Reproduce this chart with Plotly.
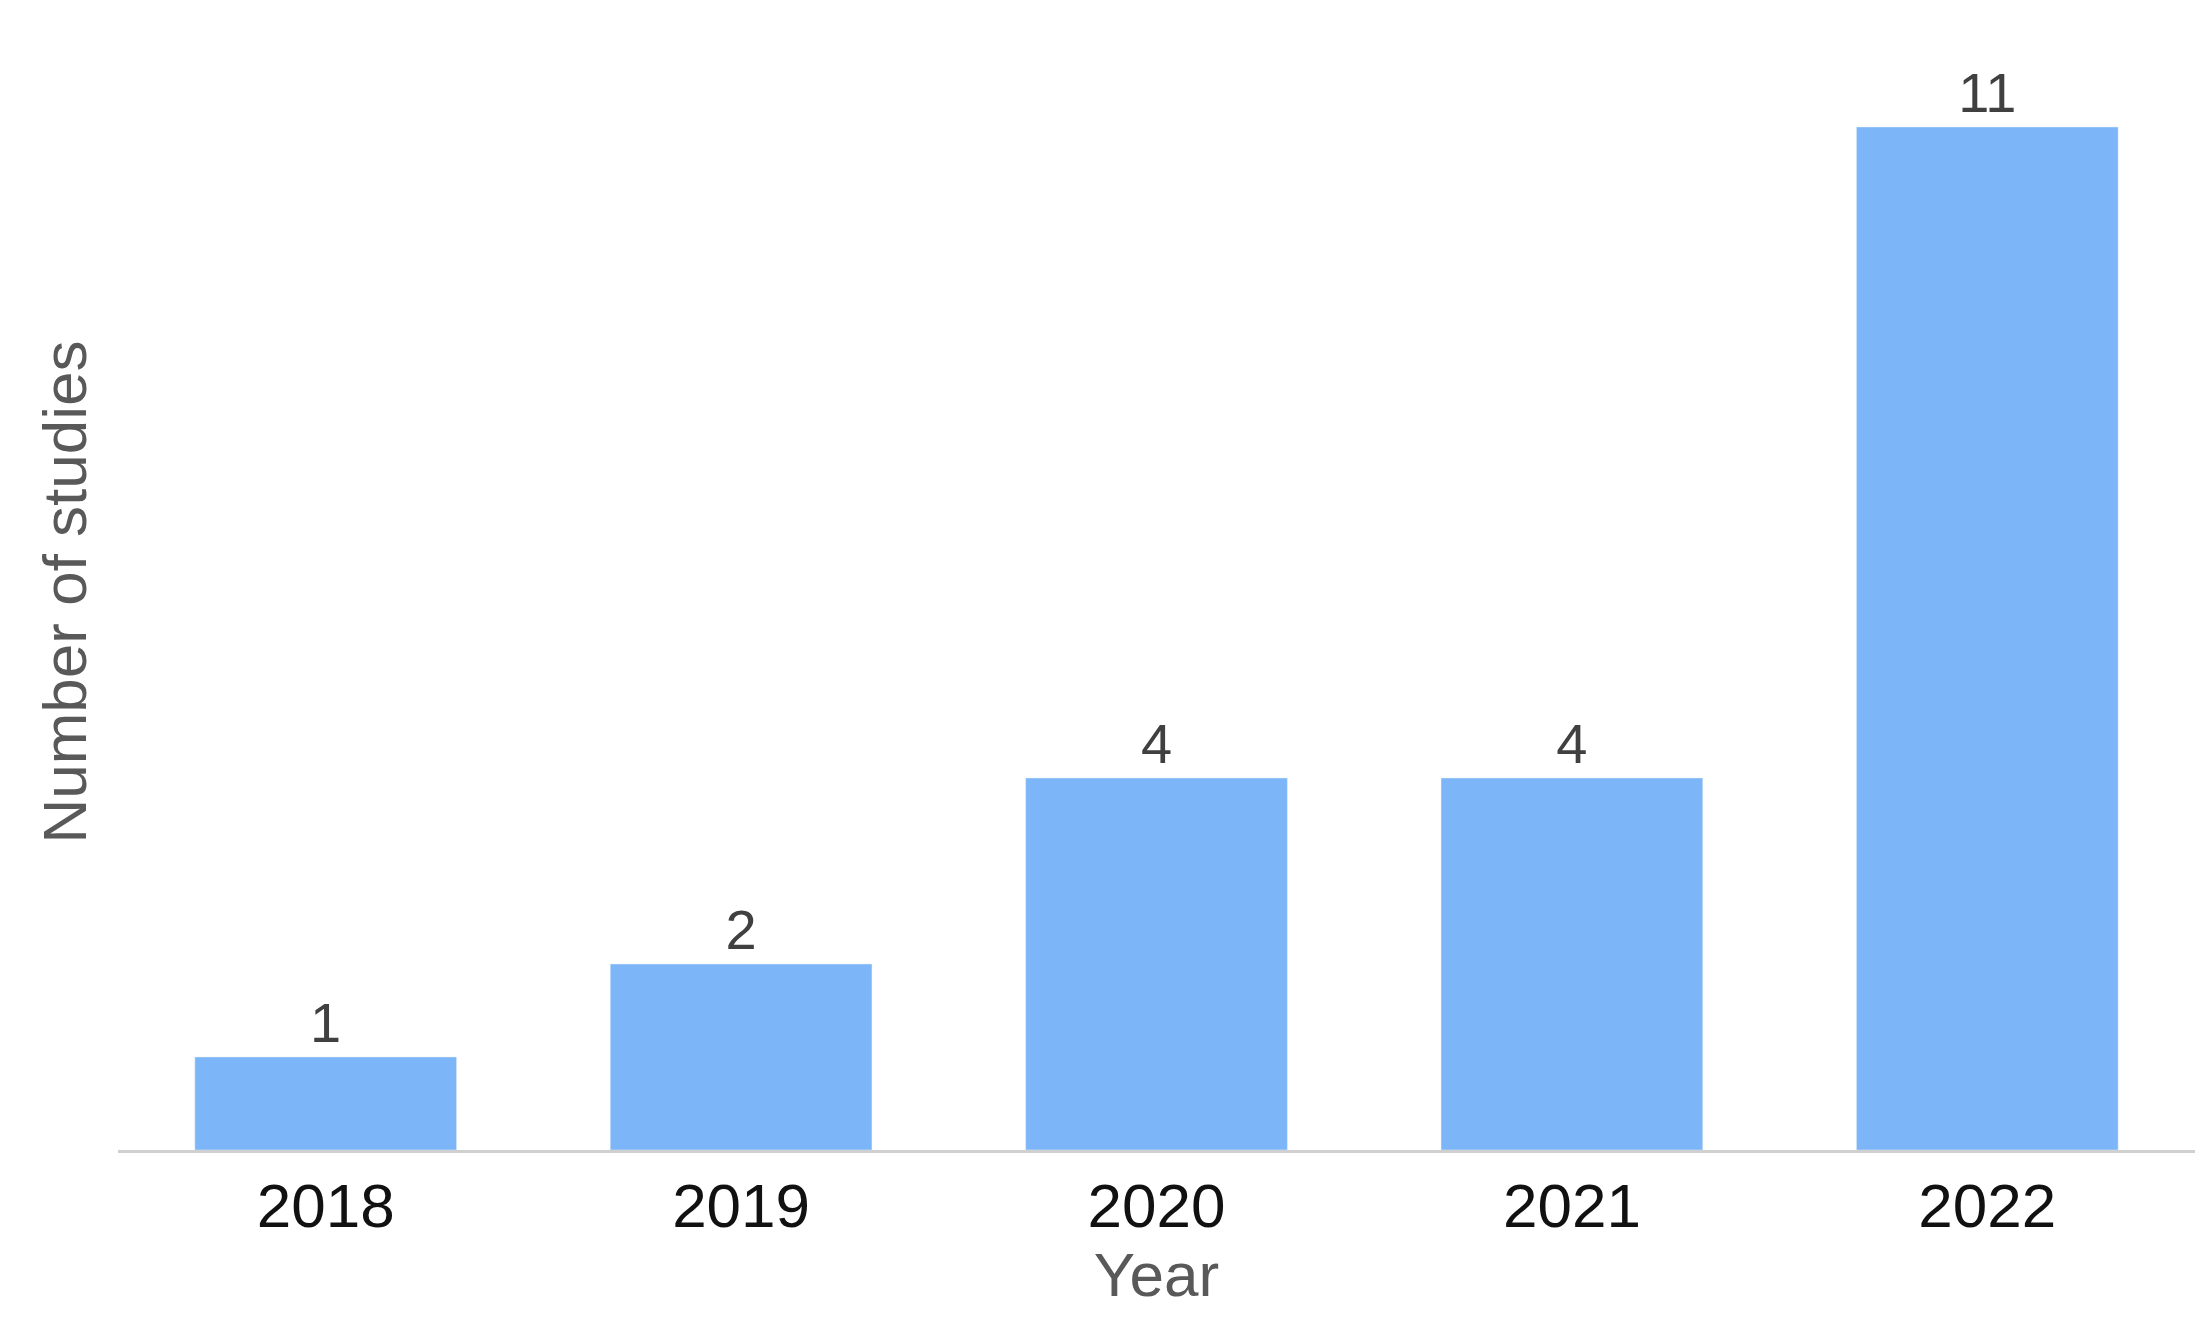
import plotly.graph_objects as go

years = ["2018", "2019", "2020", "2021", "2022"]
studies = [1, 2, 4, 4, 11]

fig = go.Figure(go.Bar(
    x=years, y=studies, marker_color="#7cb5f8",
    text=[str(v) for v in studies], textposition="outside",
    textfont=dict(size=56, color="#404040", family="Liberation Sans"),
    cliponaxis=False,
))
fig.update_layout(
    width=2207, height=1342, plot_bgcolor="white", paper_bgcolor="white",
    margin=dict(l=110, r=20, t=26, b=200),
    bargap=0.37, showlegend=False,
    font=dict(family="Liberation Sans"),
)
fig.update_xaxes(
    showline=True, linecolor="#d0d0d0", linewidth=3, ticks="",
    tickfont=dict(size=62, color="#111111"),
    title=dict(text="Year", font=dict(size=62, color="#595959"), standoff=4),
)
fig.update_yaxes(
    range=[0, 12], showgrid=False, showticklabels=False, zeroline=False,
    title=dict(text="Number of studies", font=dict(size=62, color="#595959"), standoff=10),
)
fig.write_html("out.html")
